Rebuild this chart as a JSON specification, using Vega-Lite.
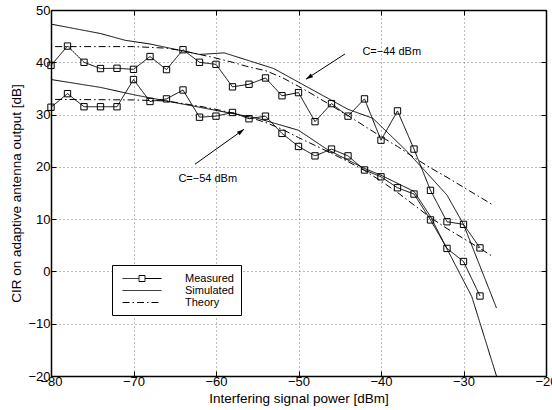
{
  "$schema": "https://vega.github.io/schema/vega-lite/v6.json",
  "width": 495,
  "height": 366,
  "autosize": "none",
  "padding": {"left": 51, "top": 10, "right": 6, "bottom": 34},
  "background": "white",
  "config": {
    "view": {"stroke": "black", "strokeWidth": 1},
    "font": "Liberation Sans",
    "axis": {
      "grid": true,
      "gridDash": [1, 3],
      "gridColor": "#777777",
      "gridOpacity": 1,
      "gridWidth": 1,
      "domainColor": "black",
      "domainWidth": 1.5,
      "tickColor": "black",
      "tickSize": -5,
      "labelFont": "Liberation Sans",
      "labelFontSize": 13,
      "labelColor": "black",
      "labelFlush": false,
      "labelOverlap": false,
      "titleFont": "Liberation Sans",
      "titleFontSize": 13.5,
      "titleFontWeight": "normal",
      "titleColor": "black",
      "labelPadding": 4
    }
  },
  "datasets": {
    "curves": [
      {"series": "C44", "kind": "Measured", "x": -80, "y": 39.4},
      {"series": "C44", "kind": "Measured", "x": -78, "y": 43.1},
      {"series": "C44", "kind": "Measured", "x": -76, "y": 40.0},
      {"series": "C44", "kind": "Measured", "x": -74, "y": 38.8},
      {"series": "C44", "kind": "Measured", "x": -72, "y": 38.85},
      {"series": "C44", "kind": "Measured", "x": -70, "y": 38.65},
      {"series": "C44", "kind": "Measured", "x": -68, "y": 41.1},
      {"series": "C44", "kind": "Measured", "x": -66, "y": 38.6},
      {"series": "C44", "kind": "Measured", "x": -64, "y": 42.4},
      {"series": "C44", "kind": "Measured", "x": -62, "y": 40.0},
      {"series": "C44", "kind": "Measured", "x": -60, "y": 39.6},
      {"series": "C44", "kind": "Measured", "x": -58, "y": 35.3},
      {"series": "C44", "kind": "Measured", "x": -56, "y": 35.8},
      {"series": "C44", "kind": "Measured", "x": -54, "y": 37.0},
      {"series": "C44", "kind": "Measured", "x": -52, "y": 33.6},
      {"series": "C44", "kind": "Measured", "x": -50, "y": 34.2},
      {"series": "C44", "kind": "Measured", "x": -48, "y": 28.65},
      {"series": "C44", "kind": "Measured", "x": -46, "y": 32.1},
      {"series": "C44", "kind": "Measured", "x": -44, "y": 29.7},
      {"series": "C44", "kind": "Measured", "x": -42, "y": 33.0},
      {"series": "C44", "kind": "Measured", "x": -40, "y": 25.1},
      {"series": "C44", "kind": "Measured", "x": -38, "y": 30.7},
      {"series": "C44", "kind": "Measured", "x": -36, "y": 23.4},
      {"series": "C44", "kind": "Measured", "x": -34, "y": 15.5},
      {"series": "C44", "kind": "Measured", "x": -32, "y": 9.5},
      {"series": "C44", "kind": "Measured", "x": -30, "y": 9.0},
      {"series": "C44", "kind": "Measured", "x": -28, "y": 4.5},

      {"series": "C54", "kind": "Measured", "x": -80, "y": 31.4},
      {"series": "C54", "kind": "Measured", "x": -78, "y": 34.0},
      {"series": "C54", "kind": "Measured", "x": -76, "y": 31.5},
      {"series": "C54", "kind": "Measured", "x": -74, "y": 31.5},
      {"series": "C54", "kind": "Measured", "x": -72, "y": 31.5},
      {"series": "C54", "kind": "Measured", "x": -70, "y": 36.7},
      {"series": "C54", "kind": "Measured", "x": -68, "y": 32.5},
      {"series": "C54", "kind": "Measured", "x": -66, "y": 33.0},
      {"series": "C54", "kind": "Measured", "x": -64, "y": 34.7},
      {"series": "C54", "kind": "Measured", "x": -62, "y": 29.5},
      {"series": "C54", "kind": "Measured", "x": -60, "y": 29.7},
      {"series": "C54", "kind": "Measured", "x": -58, "y": 30.4},
      {"series": "C54", "kind": "Measured", "x": -56, "y": 29.2},
      {"series": "C54", "kind": "Measured", "x": -54, "y": 29.7},
      {"series": "C54", "kind": "Measured", "x": -52, "y": 26.4},
      {"series": "C54", "kind": "Measured", "x": -50, "y": 23.9},
      {"series": "C54", "kind": "Measured", "x": -48, "y": 22.1},
      {"series": "C54", "kind": "Measured", "x": -46, "y": 23.4},
      {"series": "C54", "kind": "Measured", "x": -44, "y": 22.1},
      {"series": "C54", "kind": "Measured", "x": -42, "y": 19.4},
      {"series": "C54", "kind": "Measured", "x": -40, "y": 18.1},
      {"series": "C54", "kind": "Measured", "x": -38, "y": 16.0},
      {"series": "C54", "kind": "Measured", "x": -36, "y": 14.8},
      {"series": "C54", "kind": "Measured", "x": -34, "y": 9.85},
      {"series": "C54", "kind": "Measured", "x": -32, "y": 4.4},
      {"series": "C54", "kind": "Measured", "x": -30, "y": 1.9},
      {"series": "C54", "kind": "Measured", "x": -28, "y": -4.7},

      {"series": "C44", "kind": "Simulated", "x": -80, "y": 47.3},
      {"series": "C44", "kind": "Simulated", "x": -74, "y": 45.5},
      {"series": "C44", "kind": "Simulated", "x": -71, "y": 44.2},
      {"series": "C44", "kind": "Simulated", "x": -68, "y": 43.5},
      {"series": "C44", "kind": "Simulated", "x": -62, "y": 41.5},
      {"series": "C44", "kind": "Simulated", "x": -59, "y": 41.8},
      {"series": "C44", "kind": "Simulated", "x": -53, "y": 38.8},
      {"series": "C44", "kind": "Simulated", "x": -44, "y": 31.0},
      {"series": "C44", "kind": "Simulated", "x": -41, "y": 29.3},
      {"series": "C44", "kind": "Simulated", "x": -37, "y": 23.2},
      {"series": "C44", "kind": "Simulated", "x": -35, "y": 19.8},
      {"series": "C44", "kind": "Simulated", "x": -32, "y": 14.6},
      {"series": "C44", "kind": "Simulated", "x": -30, "y": 9.0},
      {"series": "C44", "kind": "Simulated", "x": -28, "y": 1.0},
      {"series": "C44", "kind": "Simulated", "x": -26, "y": -7.0},

      {"series": "C54", "kind": "Simulated", "x": -80, "y": 36.7},
      {"series": "C54", "kind": "Simulated", "x": -74, "y": 35.2},
      {"series": "C54", "kind": "Simulated", "x": -70, "y": 33.8},
      {"series": "C54", "kind": "Simulated", "x": -60, "y": 30.8},
      {"series": "C54", "kind": "Simulated", "x": -55, "y": 29.3},
      {"series": "C54", "kind": "Simulated", "x": -50, "y": 27.0},
      {"series": "C54", "kind": "Simulated", "x": -46.5, "y": 23.3},
      {"series": "C54", "kind": "Simulated", "x": -42, "y": 19.7},
      {"series": "C54", "kind": "Simulated", "x": -40, "y": 18.4},
      {"series": "C54", "kind": "Simulated", "x": -36, "y": 15.3},
      {"series": "C54", "kind": "Simulated", "x": -34, "y": 10.5},
      {"series": "C54", "kind": "Simulated", "x": -32, "y": 4.3},
      {"series": "C54", "kind": "Simulated", "x": -29, "y": -4.8},
      {"series": "C54", "kind": "Simulated", "x": -26, "y": -20.0},

      {"series": "C44", "kind": "Theory", "x": -79.5, "y": 43.0},
      {"series": "C44", "kind": "Theory", "x": -70, "y": 43.0},
      {"series": "C44", "kind": "Theory", "x": -66, "y": 42.7},
      {"series": "C44", "kind": "Theory", "x": -64, "y": 42.2},
      {"series": "C44", "kind": "Theory", "x": -62, "y": 41.5},
      {"series": "C44", "kind": "Theory", "x": -60, "y": 40.8},
      {"series": "C44", "kind": "Theory", "x": -58, "y": 40.0},
      {"series": "C44", "kind": "Theory", "x": -56, "y": 39.1},
      {"series": "C44", "kind": "Theory", "x": -54, "y": 38.4},
      {"series": "C44", "kind": "Theory", "x": -52, "y": 37.1},
      {"series": "C44", "kind": "Theory", "x": -50, "y": 35.4},
      {"series": "C44", "kind": "Theory", "x": -48, "y": 33.6},
      {"series": "C44", "kind": "Theory", "x": -46, "y": 31.7},
      {"series": "C44", "kind": "Theory", "x": -44, "y": 29.8},
      {"series": "C44", "kind": "Theory", "x": -42, "y": 27.8},
      {"series": "C44", "kind": "Theory", "x": -40, "y": 25.8},
      {"series": "C44", "kind": "Theory", "x": -38, "y": 23.9},
      {"series": "C44", "kind": "Theory", "x": -36, "y": 21.8},
      {"series": "C44", "kind": "Theory", "x": -34, "y": 19.8},
      {"series": "C44", "kind": "Theory", "x": -32, "y": 18.0},
      {"series": "C44", "kind": "Theory", "x": -30, "y": 16.1},
      {"series": "C44", "kind": "Theory", "x": -28, "y": 14.2},
      {"series": "C44", "kind": "Theory", "x": -26.4, "y": 12.7},

      {"series": "C54", "kind": "Theory", "x": -79.5, "y": 32.9},
      {"series": "C54", "kind": "Theory", "x": -70, "y": 32.8},
      {"series": "C54", "kind": "Theory", "x": -66, "y": 32.6},
      {"series": "C54", "kind": "Theory", "x": -64, "y": 32.1},
      {"series": "C54", "kind": "Theory", "x": -62, "y": 31.6},
      {"series": "C54", "kind": "Theory", "x": -60, "y": 31.0},
      {"series": "C54", "kind": "Theory", "x": -58, "y": 30.3},
      {"series": "C54", "kind": "Theory", "x": -56, "y": 29.5},
      {"series": "C54", "kind": "Theory", "x": -54, "y": 28.5},
      {"series": "C54", "kind": "Theory", "x": -52, "y": 27.2},
      {"series": "C54", "kind": "Theory", "x": -50, "y": 25.6},
      {"series": "C54", "kind": "Theory", "x": -48, "y": 24.1},
      {"series": "C54", "kind": "Theory", "x": -46, "y": 22.6},
      {"series": "C54", "kind": "Theory", "x": -44, "y": 21.0},
      {"series": "C54", "kind": "Theory", "x": -42, "y": 19.3},
      {"series": "C54", "kind": "Theory", "x": -40, "y": 17.3},
      {"series": "C54", "kind": "Theory", "x": -38, "y": 15.1},
      {"series": "C54", "kind": "Theory", "x": -36, "y": 12.7},
      {"series": "C54", "kind": "Theory", "x": -34, "y": 10.3},
      {"series": "C54", "kind": "Theory", "x": -32, "y": 8.2},
      {"series": "C54", "kind": "Theory", "x": -30, "y": 6.3},
      {"series": "C54", "kind": "Theory", "x": -28, "y": 4.4},
      {"series": "C54", "kind": "Theory", "x": -26.4, "y": 2.8}
    ],
    "notes": [
      {"label": "C=−44 dBm", "x": -38.7, "y": 42.0},
      {"label": "C=−54 dBm", "x": -61.0, "y": 17.7}
    ],
    "arrows": [
      {"id": "a44", "x": -44.36, "y": 41.6, "x2": -49.1, "y2": 36.75},
      {"id": "a54", "x": -62.55, "y": 20.5, "x2": -56.6, "y2": 27.2}
    ]
  },
  "layer": [
    {
      "layer": [
        {
          "data": {"name": "curves"},
          "mark": {"type": "line", "color": "black", "strokeWidth": 1},
          "encoding": {
            "x": {
              "field": "x", "type": "quantitative",
              "scale": {"domain": [-80, -20], "nice": false, "zero": false},
              "axis": {"values": [-80, -70, -60, -50, -40, -30, -20], "title": "Interfering signal power [dBm]", "titlePadding": 3}
            },
            "y": {
              "field": "y", "type": "quantitative",
              "scale": {"domain": [-20, 50], "nice": false, "zero": false},
              "axis": {"values": [-20, -10, 0, 10, 20, 30, 40, 50], "title": "CIR on adaptive antenna output [dB]", "labelPadding": 6, "titlePadding": 4}
            },
            "detail": {"field": "series"},
            "strokeDash": {
              "field": "kind", "type": "nominal",
              "scale": {"domain": ["Measured", "Simulated", "Theory"], "range": [[1, 0], [1, 0], [7, 3, 1.5, 3]]},
              "legend": {
                "title": null,
                "orient": "none",
                "legendX": 61,
                "legendY": 255,
                "direction": "vertical",
                "fillColor": "white",
                "strokeColor": "black",
                "padding": 7,
                "labelFont": "Liberation Sans",
                "labelFontSize": 11,
                "labelColor": "black",
                "labelOffset": 53,
                "symbolSize": 144,
                "symbolStrokeColor": "black",
                "symbolStrokeWidth": 1,
                "symbolFillColor": "transparent",
                "rowPadding": 0,
                "encode": {
                  "symbols": {
                    "update": {
                      "shape": {"signal": "datum.value === 'Measured' ? 'M-3.25,0H-0.5M0.5,0H3.25M-0.5,-0.5H0.5V0.5H-0.5Z' : 'M-3.25,0H3.25'"},
                      "x": {"value": 23},
                      "fill": {"value": "transparent"},
                      "stroke": {"value": "black"}
                    }
                  }
                }
              }
            }
          }
        },
        {
          "data": {"name": "curves"},
          "transform": [{"filter": "datum.kind === 'Measured'"}],
          "mark": {"type": "point", "shape": "square", "filled": false, "color": "black", "size": 40, "strokeWidth": 1, "opacity": 1},
          "encoding": {
            "x": {"field": "x", "type": "quantitative"},
            "y": {"field": "y", "type": "quantitative"}
          }
        },
        {
          "data": {"name": "notes"},
          "mark": {"type": "text", "font": "Liberation Sans", "fontSize": 11, "color": "black", "align": "center", "baseline": "middle"},
          "encoding": {
            "x": {"field": "x", "type": "quantitative"},
            "y": {"field": "y", "type": "quantitative"},
            "text": {"field": "label"}
          }
        },
        {
          "data": {"name": "arrows"},
          "mark": {"type": "rule", "color": "black", "strokeWidth": 1},
          "encoding": {
            "x": {"field": "x", "type": "quantitative"},
            "y": {"field": "y", "type": "quantitative"},
            "x2": {"field": "x2"},
            "y2": {"field": "y2"}
          }
        },
        {
          "data": {"name": "arrows"},
          "transform": [{"filter": "datum.id === 'a44'"}],
          "mark": {"type": "point", "shape": "M0,0L-0.4,1.3L0.4,1.3Z", "filled": true, "color": "black", "size": 120, "opacity": 1, "angle": 237.3},
          "encoding": {
            "x": {"field": "x2", "type": "quantitative"},
            "y": {"field": "y2", "type": "quantitative"}
          }
        },
        {
          "data": {"name": "arrows"},
          "transform": [{"filter": "datum.id === 'a54'"}],
          "mark": {"type": "point", "shape": "M0,0L-0.4,1.3L0.4,1.3Z", "filled": true, "color": "black", "size": 120, "opacity": 1, "angle": 53.7},
          "encoding": {
            "x": {"field": "x2", "type": "quantitative"},
            "y": {"field": "y2", "type": "quantitative"}
          }
        }
      ]
    },
    {
      "data": {"name": "arrows"},
      "mark": {"type": "point", "opacity": 0},
      "encoding": {
        "x": {
          "field": "x", "type": "quantitative",
          "scale": {"domain": [-80, -20], "nice": false, "zero": false},
          "axis": {"orient": "top", "values": [-80, -70, -60, -50, -40, -30, -20], "labels": false, "title": null, "grid": false}
        },
        "y": {
          "field": "y", "type": "quantitative",
          "scale": {"domain": [-20, 50], "nice": false, "zero": false},
          "axis": {"orient": "right", "values": [-20, -10, 0, 10, 20, 30, 40, 50], "labels": false, "title": null, "grid": false}
        }
      }
    }
  ],
  "resolve": {"axis": {"x": "independent", "y": "independent"}}
}
